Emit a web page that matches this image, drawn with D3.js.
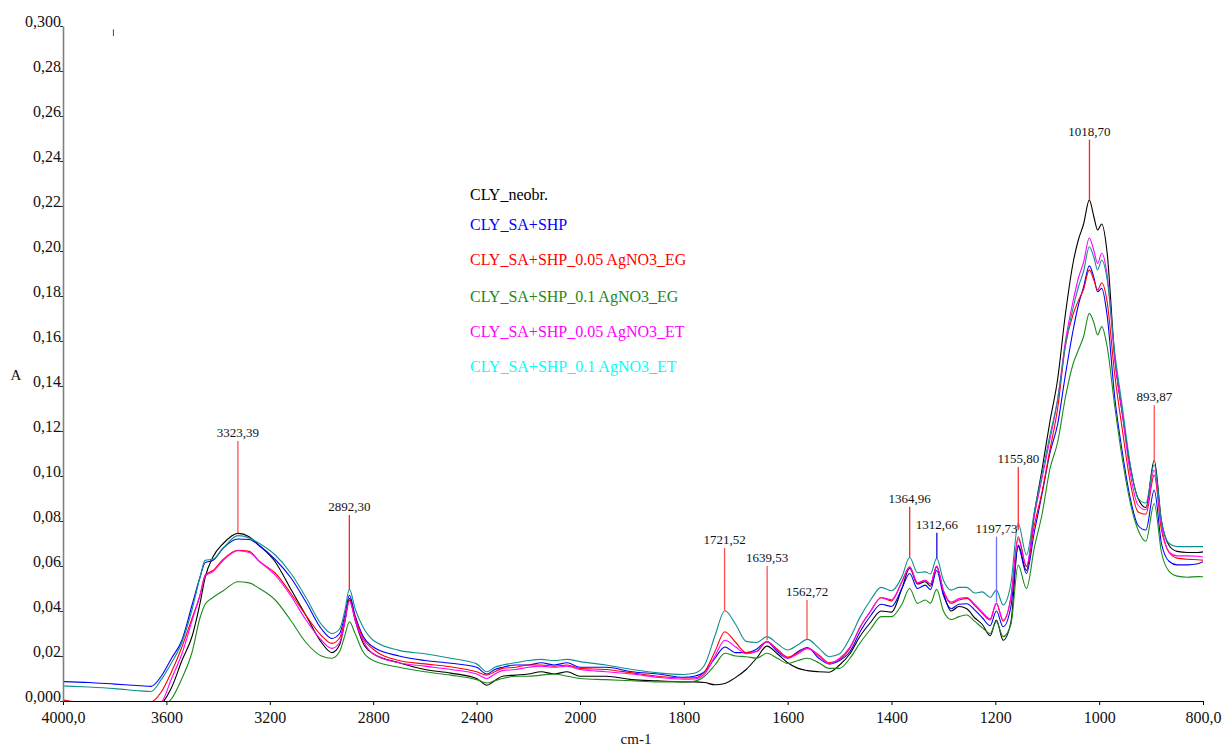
<!DOCTYPE html>
<html>
<head>
<meta charset="utf-8">
<script src="https://cdn.jsdelivr.net/npm/d3@7"></script>
<style>
  html, body { margin: 0; padding: 0; background: #fff; }
  svg { display: block; }
</style>
</head>
<body>
<svg id="chart" width="1226" height="747"></svg>
<script>
// ---------- data ----------
const wavenumbers = [4000,3900,3800,3700,3660,3620,3580,3540,3500,3470,3450,3420,3380,3323,3280,3240,3180,3120,3060,3000,2960,2930,2910,2892,2870,2840,2800,2700,2600,2500,2400,2360,2330,2300,2250,2200,2150,2100,2050,2000,1950,1900,1850,1800,1780,1760,1740,1721,1700,1680,1660,1640,1620,1600,1580,1562,1540,1520,1500,1480,1460,1440,1420,1400,1380,1365,1350,1335,1325,1313,1300,1285,1270,1255,1240,1225,1210,1198,1185,1170,1156,1140,1125,1110,1095,1080,1065,1050,1040,1030,1019,1010,1003,995,985,970,955,940,925,910,894,880,865,850,830,810,800];

const seriesNames = ["CLY_neobr.","CLY_SA+SHP","CLY_SA+SHP_0.05 AgNO3_EG","CLY_SA+SHP_0.1 AgNO3_EG","CLY_SA+SHP_0.05 AgNO3_ET","CLY_SA+SHP_0.1 AgNO3_ET"];

const neobr = [-0.002,-0.002,-0.002,-0.002,-0.002,-0.001,0.006,0.018,0.029,0.0434,0.055,0.064,0.070,0.0745,0.073,0.069,0.062,0.050,0.038,0.026,0.0215,0.025,0.035,0.0456,0.036,0.026,0.021,0.017,0.014,0.0124,0.010,0.007,0.009,0.011,0.0115,0.012,0.013,0.012,0.013,0.011,0.011,0.0095,0.009,0.0085,0.0085,0.0082,0.0072,0.0078,0.0105,0.014,0.019,0.0244,0.021,0.017,0.0145,0.0135,0.013,0.0128,0.016,0.021,0.029,0.035,0.040,0.0395,0.050,0.059,0.052,0.053,0.051,0.0597,0.048,0.040,0.042,0.041,0.037,0.034,0.029,0.036,0.027,0.035,0.0693,0.058,0.083,0.103,0.124,0.143,0.172,0.195,0.205,0.212,0.2226,0.215,0.2093,0.212,0.200,0.153,0.127,0.104,0.090,0.086,0.107,0.080,0.069,0.0665,0.066,0.066,0.0663];

const saShp = [0.0086,0.0082,0.0075,0.0068,0.0065,0.011,0.019,0.027,0.043,0.055,0.0615,0.0625,0.068,0.072,0.0718,0.069,0.063,0.055,0.044,0.032,0.0278,0.030,0.038,0.047,0.038,0.029,0.024,0.020,0.018,0.0168,0.015,0.012,0.014,0.015,0.016,0.016,0.017,0.016,0.017,0.015,0.015,0.013,0.012,0.0105,0.011,0.013,0.019,0.024,0.0215,0.0215,0.023,0.0264,0.022,0.019,0.022,0.0238,0.019,0.0165,0.018,0.022,0.031,0.038,0.043,0.042,0.050,0.0567,0.050,0.0515,0.0495,0.058,0.047,0.041,0.043,0.0432,0.0405,0.037,0.0335,0.040,0.033,0.042,0.0686,0.0567,0.075,0.092,0.110,0.123,0.145,0.165,0.176,0.184,0.1934,0.188,0.1819,0.1834,0.172,0.135,0.110,0.090,0.078,0.076,0.0937,0.070,0.062,0.0605,0.0605,0.061,0.0619];

const ag005EG = [0.0005,-0.001,-0.001,-0.001,-0.0005,0.004,0.013,0.024,0.037,0.047,0.056,0.058,0.063,0.067,0.0665,0.062,0.057,0.048,0.038,0.029,0.0256,0.028,0.036,0.0449,0.037,0.028,0.023,0.018,0.0165,0.0152,0.013,0.0115,0.013,0.0145,0.015,0.016,0.016,0.0155,0.016,0.0145,0.014,0.0125,0.011,0.0103,0.0103,0.013,0.022,0.0308,0.026,0.0215,0.022,0.0264,0.023,0.0195,0.0215,0.0234,0.0205,0.017,0.0185,0.0235,0.033,0.040,0.0459,0.0445,0.053,0.0597,0.0525,0.0537,0.052,0.060,0.049,0.0434,0.0449,0.0456,0.0425,0.039,0.036,0.0434,0.0355,0.046,0.073,0.0597,0.078,0.093,0.1115,0.130,0.158,0.172,0.178,0.183,0.1916,0.187,0.1827,0.1859,0.178,0.145,0.120,0.097,0.084,0.083,0.1004,0.076,0.066,0.0635,0.063,0.0628,0.0626];

const ag01EG = [-0.003,-0.003,-0.003,-0.003,-0.003,-0.002,0.001,0.010,0.022,0.037,0.043,0.046,0.049,0.053,0.0525,0.050,0.045,0.036,0.026,0.020,0.019,0.022,0.029,0.0352,0.030,0.022,0.018,0.015,0.013,0.0115,0.0095,0.008,0.009,0.010,0.011,0.011,0.0115,0.012,0.011,0.010,0.0095,0.009,0.0085,0.0085,0.0088,0.011,0.016,0.0212,0.020,0.0197,0.019,0.0212,0.019,0.0167,0.018,0.019,0.017,0.0145,0.0145,0.019,0.026,0.032,0.0375,0.0375,0.043,0.050,0.0434,0.0449,0.0435,0.0496,0.040,0.0362,0.0375,0.0382,0.0355,0.0325,0.030,0.0352,0.0286,0.034,0.0604,0.050,0.068,0.083,0.103,0.115,0.135,0.150,0.156,0.162,0.1723,0.168,0.1627,0.1664,0.158,0.131,0.107,0.088,0.076,0.071,0.0878,0.066,0.0575,0.0555,0.055,0.0553,0.0552];

const ag005ET = [-0.002,-0.002,-0.002,-0.002,-0.002,-0.0005,0.010,0.021,0.036,0.047,0.0555,0.0575,0.0625,0.0668,0.066,0.062,0.056,0.047,0.036,0.027,0.0234,0.026,0.035,0.0445,0.036,0.027,0.021,0.017,0.0155,0.014,0.012,0.010,0.012,0.0135,0.014,0.015,0.0155,0.015,0.0155,0.014,0.013,0.012,0.0105,0.0097,0.0098,0.012,0.020,0.027,0.024,0.021,0.022,0.0264,0.0225,0.019,0.021,0.0234,0.020,0.0165,0.019,0.024,0.033,0.040,0.046,0.045,0.053,0.0595,0.0525,0.0535,0.052,0.0598,0.049,0.044,0.0455,0.046,0.043,0.0395,0.0365,0.0435,0.036,0.046,0.072,0.060,0.082,0.099,0.116,0.134,0.160,0.178,0.188,0.195,0.2058,0.200,0.1945,0.199,0.190,0.152,0.127,0.101,0.087,0.085,0.1027,0.078,0.066,0.0645,0.0645,0.0643,0.064];

const ag01ET = [0.0067,0.0062,0.0055,0.0045,0.0042,0.0095,0.017,0.026,0.041,0.055,0.0625,0.063,0.068,0.0735,0.0725,0.070,0.065,0.057,0.046,0.034,0.030,0.032,0.040,0.0496,0.041,0.033,0.027,0.0225,0.021,0.019,0.0165,0.013,0.015,0.016,0.017,0.018,0.0185,0.018,0.0185,0.0175,0.016,0.014,0.0125,0.0118,0.0123,0.016,0.029,0.0401,0.034,0.0265,0.026,0.0286,0.0255,0.0227,0.025,0.0274,0.0235,0.0197,0.021,0.028,0.0375,0.045,0.0505,0.049,0.0552,0.0638,0.057,0.0574,0.0565,0.0634,0.0537,0.0493,0.0505,0.0505,0.048,0.0485,0.046,0.0493,0.0427,0.0523,0.0789,0.0649,0.084,0.101,0.118,0.134,0.158,0.175,0.184,0.191,0.2019,0.197,0.1916,0.196,0.188,0.155,0.130,0.105,0.090,0.088,0.105,0.080,0.070,0.0686,0.0686,0.0686,0.0686];

const seriesValues = [neobr, saShp, ag005EG, ag01EG, ag005ET, ag01ET];
const lineColors   = ["#000000","#0000ff","#ff0000","#1a8a1a","#ff00ff","#0f8f8f"];
const legendColors = ["#000000","#0000ff","#ff0000","#1a8a1a","#ff00ff","#00ffff"];

const xTickValues = [4000,3600,3200,2800,2400,2000,1800,1600,1400,1200,1000,800];
const xTickLabels = ["4000,0","3600","3200","2800","2400","2000","1800","1600","1400","1200","1000","800,0"];
const yTickValues = [0,0.02,0.04,0.06,0.08,0.10,0.12,0.14,0.16,0.18,0.20,0.22,0.24,0.26,0.28,0.30];
const yTickLabels = ["0,000","0,02","0,04","0,06","0,08","0,10","0,12","0,14","0,16","0,18","0,20","0,22","0,24","0,26","0,28","0,300"];

// peak annotations: wavenumber, label, line top absorbance, line bottom absorbance, colour
const peakWn     = [3323.39, 2892.30, 1721.52, 1639.53, 1562.72, 1364.96, 1312.66, 1197.73, 1155.80, 1018.70, 893.87];
const peakLabels = ["3323,39","2892,30","1721,52","1639,53","1562,72","1364,96","1312,66","1197,73","1155,80","1018,70","893,87"];
const peakTop    = [0.1156, 0.0827, 0.068, 0.060, 0.0449, 0.0863, 0.0748, 0.073, 0.104, 0.2495, 0.1315];
const peakBase   = [0.0746, 0.0493, 0.040, 0.027, 0.0274, 0.0638, 0.0634, 0.044, 0.076, 0.2226, 0.1063];
const peakColors = ["#ff5050","#ff2020","#ff5050","#ff5050","#ff5050","#ff2020","#1010d0","#6f6fff","#ff3030","#ff2020","#ff5050"];

// ---------- drawing ----------
const FONT = '"Liberation Serif", "Times New Roman", Times, "DejaVu Serif", serif';
const svg = d3.select("#chart");
const x = d3.scaleLinear().domain([4000, 2000, 800]).range([63, 580, 1203]);
const y = d3.scaleLinear().domain([0, 0.30]).range([701, 26]);

svg.append("defs").append("clipPath").attr("id", "plotclip")
  .append("rect").attr("x", x(4000)).attr("y", y(0.30) - 5)
  .attr("width", x(800) - x(4000)).attr("height", y(0) - y(0.30) + 5);

// curves
const line = d3.line().x((d, i) => x(wavenumbers[i])).y(d => y(d)).curve(d3.curveMonotoneX);
const g = svg.append("g").attr("clip-path", "url(#plotclip)");
seriesValues.forEach((vals, k) => {
  g.append("path").datum(vals)
    .attr("d", line)
    .attr("fill", "none")
    .attr("stroke", lineColors[k])
    .attr("stroke-width", 1.1)
    .attr("stroke-linejoin", "round");
});

// annotations
peakWn.forEach((w, i) => {
  svg.append("line")
    .attr("x1", x(w)).attr("x2", x(w))
    .attr("y1", y(peakTop[i])).attr("y2", y(peakBase[i]))
    .attr("stroke", peakColors[i]).attr("stroke-width", 1.3);
  svg.append("text")
    .attr("x", x(w)).attr("y", y(peakTop[i]) - 4)
    .attr("text-anchor", "middle")
    .style("font-family", FONT).style("font-size", "13px")
    .attr("fill", "#111")
    .text(peakLabels[i]);
});

// small blue marker near top-left
svg.append("line")
  .attr("x1", x(3805)).attr("x2", x(3805))
  .attr("y1", y(0.2985)).attr("y2", y(0.2955))
  .attr("stroke", "#3030ff").attr("stroke-width", 1);

// axes
const xAxis = d3.axisBottom(x).tickValues(xTickValues)
  .tickFormat((d, i) => xTickLabels[i]).tickSize(4).tickSizeOuter(0);
const gx = svg.append("g").attr("transform", `translate(0,${y(0)})`).call(xAxis);
gx.select(".domain").attr("stroke", "#000").attr("stroke-width", 1.2);
gx.selectAll(".tick line").attr("stroke", "#000");
gx.selectAll(".tick text").style("font-family", FONT).style("font-size", "16px")
  .attr("fill", "#111").attr("dy", "0.95em");

const yAxis = d3.axisLeft(y).tickValues(yTickValues)
  .tickFormat((d, i) => yTickLabels[i]).tickSize(3).tickSizeOuter(0);
const gy = svg.append("g").attr("transform", `translate(${x(4000)},0)`).call(yAxis);
gy.select(".domain").attr("stroke", "#808080").attr("stroke-width", 1.6);
gy.selectAll(".tick line").attr("stroke", "#333");
gy.selectAll(".tick text").style("font-family", FONT).style("font-size", "16px")
  .attr("fill", "#111").attr("dy", "0").attr("x", -2);

// axis titles
svg.append("text").attr("x", 16).attr("y", 380).attr("text-anchor", "middle")
  .style("font-family", FONT).style("font-size", "15px").attr("fill", "#111").text("A");
svg.append("text").attr("x", 636).attr("y", 744).attr("text-anchor", "middle")
  .style("font-family", FONT).style("font-size", "15px").attr("fill", "#111").text("cm-1");

// legend
const legendBase = [200, 230, 265, 302, 337, 372];
seriesNames.forEach((n, i) => {
  svg.append("text").attr("x", 470).attr("y", legendBase[i])
    .style("font-family", FONT).style("font-size", "16px")
    .attr("fill", legendColors[i]).text(n);
});
</script>
</body>
</html>
